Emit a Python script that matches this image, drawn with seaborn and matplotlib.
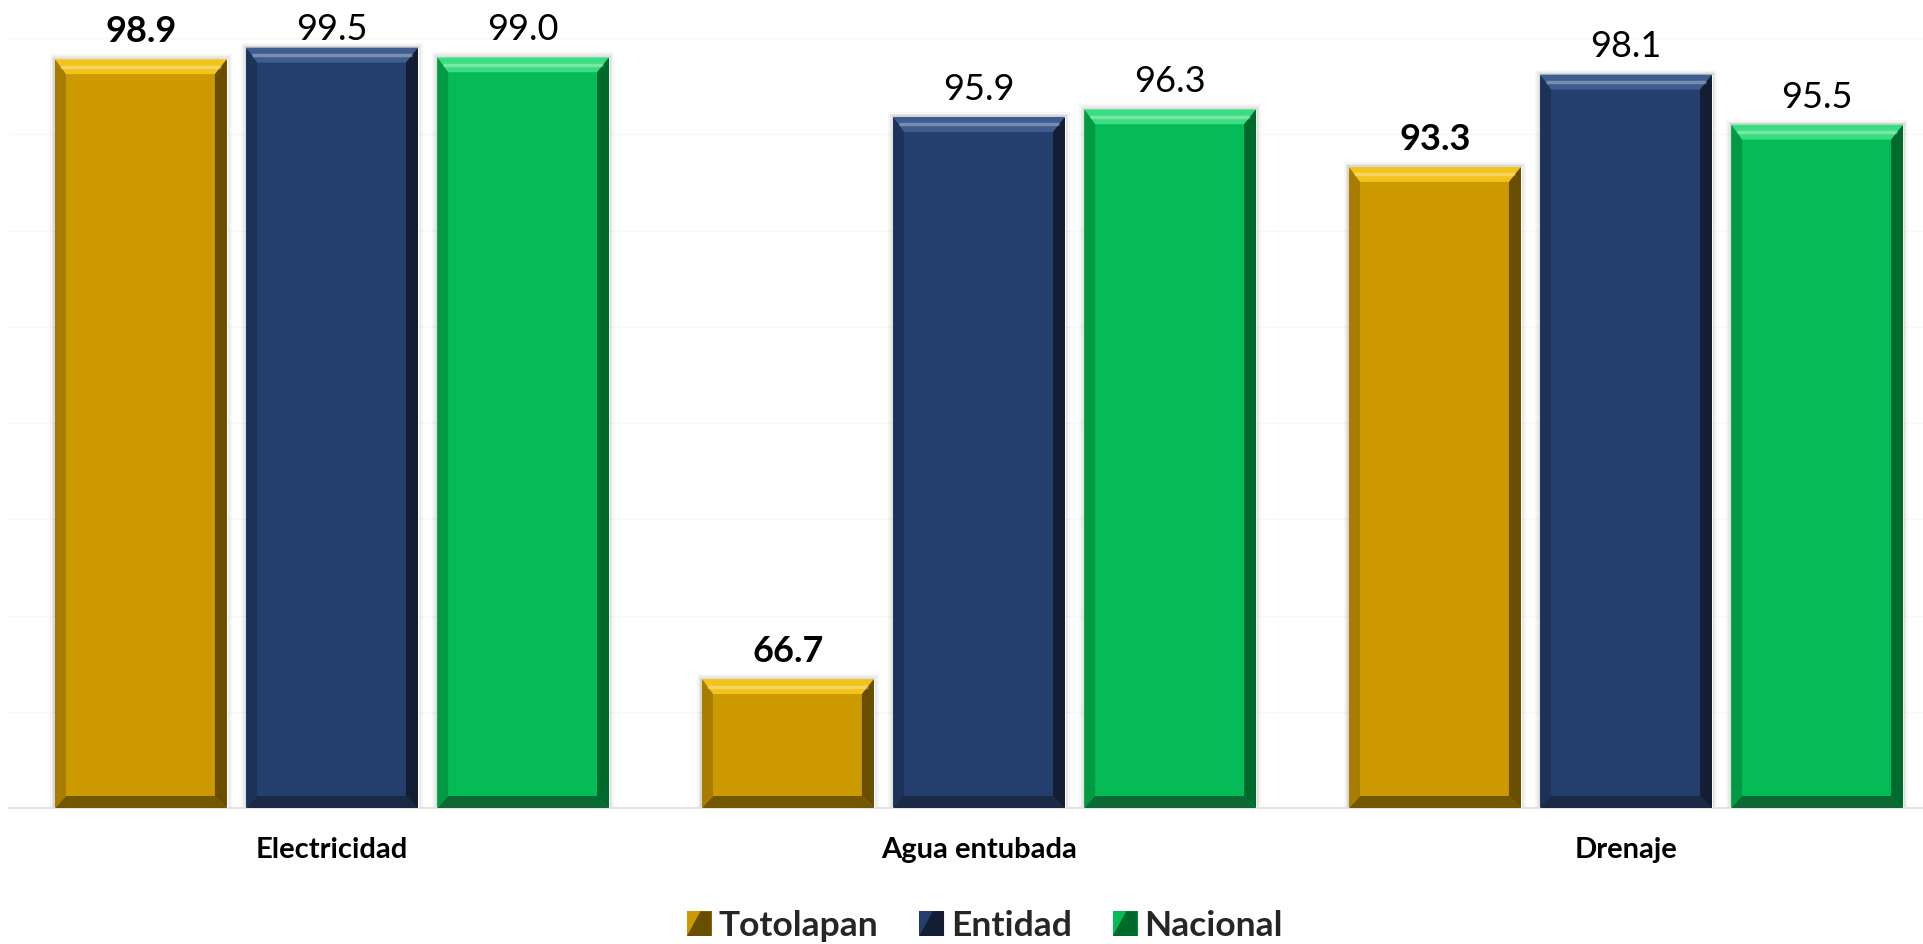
import numpy as np
import pandas as pd
import matplotlib
matplotlib.use("Agg")
import matplotlib.pyplot as plt
import seaborn as sns
from matplotlib.patches import Polygon, Rectangle
from matplotlib.legend_handler import HandlerBase

# ---------------- data ----------------
categories = ["Electricidad", "Agua entubada", "Drenaje"]
series = ["Totolapan", "Entidad", "Nacional"]
totolapan = [98.9, 66.7, 93.3]
entidad = [99.5, 95.9, 98.1]
nacional = [99.0, 96.3, 95.5]
y_ticks = [60, 65, 70, 75, 80, 85, 90, 95, 100]

# ---------------- style ----------------
colors = {"Totolapan": "#CC9900", "Entidad": "#243F6E", "Nacional": "#05BB55"}
bevel = {
    "Totolapan": dict(top="#F2C31A", left="#A87C00", right="#6A4E00", bottom="#735600"),
    "Entidad": dict(top="#3F5C8E", left="#1D3259", right="#131E35", bottom="#1A2944"),
    "Nacional": dict(top="#3BDD80", left="#019A42", right="#006A2D", bottom="#0B6A33"),
}

sns.set_theme(style="white")
plt.rcParams["font.family"] = ["Lato", "DejaVu Sans"]

W, H = 1923, 944
fig = plt.figure(figsize=(W / 100, H / 100), dpi=100)
ax_left, ax_right, ax_top, ax_bot = 8.5, 1923, 38, 808
ax = fig.add_axes([ax_left / W, 1 - ax_bot / H, (ax_right - ax_left) / W, (ax_bot - ax_top) / H])

df = pd.DataFrame({
    "Categoría": categories * 3,
    "Serie": [s for s in series for _ in categories],
    "Valor": totolapan + entidad + nacional,
})

sns.barplot(data=df, x="Categoría", y="Valor", hue="Serie", order=categories,
            hue_order=series, palette=colors, width=0.886, gap=0.1,
            saturation=1, errorbar=None, legend=False, ax=ax, zorder=3)

ymin, ymax = 60, 100
xmin, xmax = -0.5, 2.459
ax.set_ylim(ymin, ymax)
ax.set_xlim(xmin, xmax)
ax.set_yticks(y_ticks)
ax.set_yticklabels([])
ax.grid(axis="y", color="#F7F7F7", lw=1)
ax.grid(axis="x", visible=False)
ax.set_axisbelow(True)
for s in ["top", "left", "right"]:
    ax.spines[s].set_visible(False)
ax.spines["bottom"].set_color("#DDDDDD")
ax.spines["bottom"].set_linewidth(1.2)
ax.set_xlabel("")
ax.set_ylabel("")
ax.tick_params(axis="x", length=0, pad=21)
ax.tick_params(axis="y", length=0)
for lab in ax.get_xticklabels():
    lab.set_fontweight("bold")
    lab.set_fontsize(21)
    lab.set_color("black")

# pixel -> data conversions
px_x = (xmax - xmin) / (ax_right - ax_left)
px_y = (ymax - ymin) / (ax_bot - ax_top)

bt, bb, bl, br = 15, 12, 11, 12  # bevel sizes in px
labels = []
for serie, cont in zip(series, ax.containers):
    bc = bevel[serie]
    for p in cont.patches:
        x0 = p.get_x()
        x1 = x0 + p.get_width()
        y1 = p.get_y() + p.get_height()
        y0 = ymin
        dxl, dxr = bl * px_x, br * px_x
        dyt, dyb = bt * px_y, bb * px_y
        # soft shadow
        for k, a in [(5, 0.07), (3, 0.1), (1.5, 0.18)]:
            ax.add_patch(Rectangle((x0 - k * px_x, y0), (x1 - x0) + 2 * k * px_x,
                                   (y1 - y0) + k * px_y, color="#808080", alpha=a,
                                   lw=0, zorder=2))
        ax.add_patch(Polygon([[x0, y1], [x1, y1], [x1 - dxr, y1 - dyt], [x0 + dxl, y1 - dyt]],
                             closed=True, color=bc["top"], lw=0, zorder=4))
        ax.add_patch(Polygon([[x0, y0], [x1, y0], [x1 - dxr, y0 + dyb], [x0 + dxl, y0 + dyb]],
                             closed=True, color=bc["bottom"], lw=0, zorder=4))
        ax.add_patch(Polygon([[x0, y0], [x0, y1], [x0 + dxl, y1 - dyt], [x0 + dxl, y0 + dyb]],
                             closed=True, color=bc["left"], lw=0, zorder=4))
        ax.add_patch(Polygon([[x1, y0], [x1, y1], [x1 - dxr, y1 - dyt], [x1 - dxr, y0 + dyb]],
                             closed=True, color=bc["right"], lw=0, zorder=4))
        # highlight line in top bevel
        ax.plot([x0 + dxl * 0.5, x1 - dxr * 0.5], [y1 - dyt * 0.5, y1 - dyt * 0.5],
                color="white", alpha=0.3, lw=2.5, zorder=5, solid_capstyle="butt")
    labels += ax.bar_label(cont, fmt="%.1f", padding=8, fontsize=26,
                           fontweight="bold" if serie == "Totolapan" else "normal",
                           color="black", zorder=6)


# ---------------- legend ----------------
class BevelHandler(HandlerBase):
    def __init__(self, main, dark):
        super().__init__()
        self.main, self.dark = main, dark

    def create_artists(self, legend, orig_handle, xdescent, ydescent, width, height,
                       fontsize, trans):
        x0, y0 = -xdescent, -ydescent
        s = height
        x0 = x0 + (width - s) / 2
        a = Polygon([[x0, y0], [x0, y0 + s], [x0 + s, y0 + s], [x0 + s, y0]],
                    closed=True, color=self.main, lw=0, transform=trans)
        b = Polygon([[x0, y0], [x0 + s * 0.55, y0 + s], [x0 + s, y0 + s], [x0 + s, y0]],
                    closed=True, color=self.dark, lw=0, transform=trans)
        return [a, b]


handles, hmap = [], {}
for serie in series:
    h = Rectangle((0, 0), 1, 1, color=colors[serie])
    handles.append(h)
    hmap[h] = BevelHandler(colors[serie], bevel[serie]["right"])

fig.legend(handles, series, handler_map=hmap, loc="center",
           bbox_to_anchor=(985 / W, 1 - 926 / H), ncol=3, frameon=False,
           prop=dict(weight="bold", size=25.5), handlelength=0.7, handleheight=0.7,
           handletextpad=0.2, columnspacing=1.15)

# keep value labels inside the figure (like the source chart does)
fig.canvas.draw()
renderer = fig.canvas.get_renderer()
top_limit = H - 13
for t in labels:
    bb_ = t.get_window_extent(renderer)
    if bb_.y1 > top_limit:
        shift_pt = (bb_.y1 - top_limit) * 72 / fig.dpi
        ox, oy = t.xyann
        t.xyann = (ox, oy - shift_pt)

fig.savefig("out.png", dpi=100)
